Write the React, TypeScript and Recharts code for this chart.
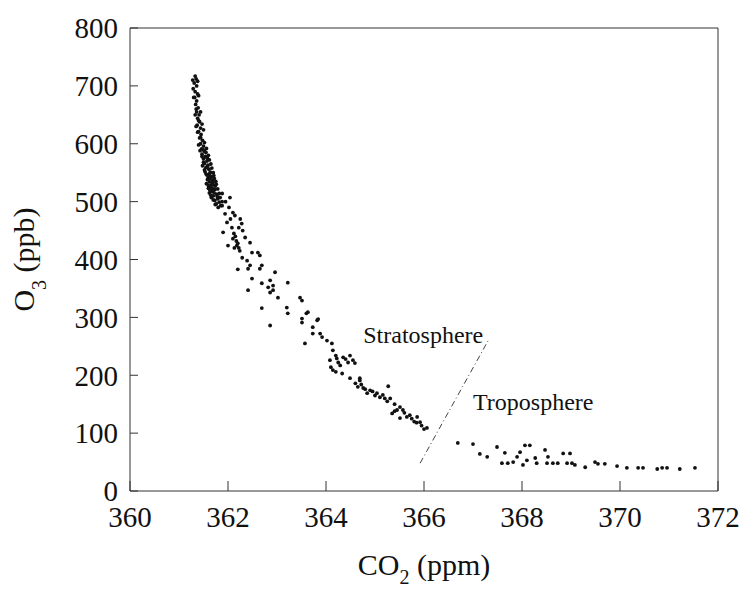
import React from "react";
import {
  ScatterChart,
  Scatter,
  XAxis,
  YAxis,
  ReferenceLine,
  ReferenceDot,
} from "recharts";

// CO2 (ppm), O3 (ppb) pairs
const upperBand: [number, number][] = [
  [361.33, 717], [361.35, 712], [361.31, 705], [361.36, 700], [361.29, 695],
  [361.33, 690], [361.38, 686], [361.32, 680], [361.36, 674], [361.34, 668],
  [361.39, 662], [361.36, 655], [361.41, 650], [361.38, 644], [361.42, 638],
  [361.37, 632], [361.44, 627], [361.4, 621], [361.45, 616], [361.42, 610],
  [361.48, 606], [361.44, 600], [361.5, 596], [361.46, 591], [361.52, 587],
  [361.47, 582], [361.54, 578], [361.5, 574], [361.57, 570], [361.52, 566],
  [361.59, 563], [361.55, 559], [361.61, 556], [361.53, 552], [361.63, 549],
  [361.57, 546], [361.66, 543], [361.59, 540], [361.68, 537], [361.62, 534],
  [361.56, 531], [361.7, 529], [361.64, 526], [361.6, 523], [361.73, 521],
  [361.67, 518], [361.62, 515], [361.76, 513], [361.7, 510], [361.66, 507],
  [361.79, 505], [361.73, 502], [361.82, 499], [361.76, 496], [361.85, 493],
  [361.8, 490], [361.58, 560], [361.64, 551], [361.61, 545], [361.69, 533],
  [361.74, 527], [361.66, 529], [361.71, 516], [361.68, 523], [361.78, 509],
  [361.58, 575], [361.49, 590], [361.44, 611], [361.4, 640], [361.35, 660],
  [361.55, 585], [361.63, 540], [361.71, 545], [361.75, 535],
  [361.4, 598], [361.52, 602], [361.43, 588], [361.56, 592], [361.47, 578],
  [361.6, 580], [361.5, 568], [361.62, 572], [361.48, 562], [361.65, 565],
  [361.52, 555], [361.67, 558], [361.55, 548], [361.7, 550], [361.58, 538],
  [361.72, 540], [361.6, 528], [361.76, 530], [361.63, 520], [361.79, 522],
  [361.65, 511], [361.82, 514], [361.7, 503], [361.84, 507], [361.74, 495],
  [361.88, 500], [361.35, 630], [361.47, 634], [361.38, 620], [361.5, 624],
  [361.33, 650], [361.44, 655], [361.3, 680], [361.4, 683], [361.28, 710],
  [361.38, 708],
];

const kneeBranch: [number, number][] = [
  [361.88, 514], [362.04, 507], [361.88, 493], [361.94, 479], [362.1, 481],
  [362.14, 476], [361.98, 464], [361.9, 447], [362.1, 436], [362.18, 424],
  [362.24, 415], [362.0, 424], [362.3, 450], [362.35, 438], [362.45, 429],
  [362.49, 412], [362.61, 412], [362.65, 407], [362.39, 398], [362.45, 390],
  [362.41, 384], [362.69, 390], [362.65, 384], [362.2, 383], [362.29, 403],
  [362.96, 378], [362.49, 367], [362.86, 364], [363.22, 360], [362.69, 359],
  [362.82, 352], [362.92, 355], [362.92, 347], [362.86, 343], [362.41, 347],
  [363.02, 334], [363.47, 334], [363.51, 329], [362.69, 316], [363.2, 317],
  [363.63, 309], [363.22, 307], [363.51, 298], [363.84, 297], [363.51, 291],
  [363.73, 283], [363.82, 295], [362.86, 286], [362.12, 445], [362.15, 440],
  [362.17, 432], [362.2, 428], [362.13, 420], [362.22, 420], [362.08, 455],
  [362.05, 470], [362.02, 490], [361.95, 500], [362.25, 470], [362.28, 462],
  [362.22, 455],
];

const lowerBranch: [number, number][] = [
  [363.6, 307], [363.57, 255], [363.73, 272], [363.88, 272], [363.92, 266],
  [364.02, 260], [364.12, 255], [364.14, 243], [364.08, 226], [364.22, 229],
  [364.35, 231], [364.49, 234], [364.55, 226], [364.59, 221], [364.29, 217],
  [364.14, 209], [364.33, 203], [364.49, 195], [364.69, 191], [365.27, 181],
  [364.76, 178], [364.9, 174], [365.04, 169], [365.16, 166], [365.31, 160],
  [365.35, 134], [365.51, 145], [365.57, 140], [365.71, 131], [365.86, 128],
  [365.92, 119], [366.06, 109], [365.51, 126], [364.84, 169], [364.2, 234],
  [364.4, 228], [364.45, 222], [364.25, 222], [364.6, 186], [364.65, 180],
  [364.72, 184], [364.8, 176], [364.95, 172], [365.0, 165], [365.1, 162],
  [365.2, 160], [365.25, 155], [365.4, 150], [365.45, 140], [365.6, 135],
  [365.65, 128], [365.75, 125], [365.8, 120], [365.95, 113], [366.0, 107],
  [365.85, 118], [365.4, 138], [364.1, 214], [364.2, 206], [364.69, 195],
];

const troposphere: [number, number][] = [
  [366.69, 83], [367.0, 81], [367.14, 64], [367.29, 59], [367.49, 76],
  [367.65, 66], [367.59, 48], [367.71, 48], [367.82, 50], [367.9, 59],
  [367.96, 67], [368.06, 79], [368.16, 79], [368.02, 45], [368.1, 53],
  [368.27, 57], [368.3, 48], [368.47, 71], [368.51, 48], [368.53, 59],
  [368.63, 48], [368.73, 48], [368.84, 65], [368.92, 48], [368.98, 65],
  [369.02, 48], [369.08, 45], [369.29, 41], [369.49, 50], [369.55, 47],
  [369.69, 47], [369.94, 43], [370.14, 40], [370.37, 40], [370.47, 40],
  [370.76, 38], [370.86, 40], [370.96, 40], [371.22, 38], [371.53, 40],
];

// tropopause divider drawn on the figure
const dividerLine: [number, number][] = [
  [365.92, 48],
  [367.31, 260],
];

const xTicks = [360, 362, 364, 366, 368, 370, 372];
const yTicks = [0, 100, 200, 300, 400, 500, 600, 700, 800];

const points = [...upperBand, ...kneeBranch, ...lowerBranch, ...troposphere].map(
  ([co2, o3]) => ({ co2, o3 })
);

const FONT = "'Liberation Serif', 'Times New Roman', serif";
const INK = "#111";

const Dot = (props: any) => (
  <circle cx={props.cx} cy={props.cy} r={1.9} fill={INK} />
);
const NoDot = () => <g />;

const XTitle = (props: any) => {
  const { x, y, width } = props.viewBox;
  return (
    <text
      x={x + width / 2}
      y={y + 84}
      textAnchor="middle"
      fontFamily={FONT}
      fontSize={30}
      fill={INK}
    >
      CO
      <tspan fontSize={20} dy={9}>2</tspan>
      <tspan dy={-9}> (ppm)</tspan>
    </text>
  );
};

const YTitle = (props: any) => {
  const { y, height } = props.viewBox;
  return (
    <text
      transform={`translate(34, ${y + height / 2}) rotate(-90)`}
      textAnchor="middle"
      fontFamily={FONT}
      fontSize={30}
      fill={INK}
    >
      O
      <tspan fontSize={20} dy={12}>3</tspan>
      <tspan dy={-12}> (ppb)</tspan>
    </text>
  );
};

const Note = (text: string) => (props: any) => (
  <text
    x={props.viewBox.x}
    y={props.viewBox.y}
    fontFamily={FONT}
    fontSize={24}
    fill={INK}
  >
    {text}
  </text>
);

const tickStyle = { fill: INK, fontSize: 29, fontFamily: FONT };

export default function App() {
  return (
    <div style={{ position: "absolute", left: 0, top: 0, background: "#fff" }}>
      <ScatterChart
        width={741}
        height={589}
        margin={{ top: 27, right: 22, bottom: 0, left: 0 }}
      >
        <XAxis
          xAxisId="b"
          dataKey="co2"
          type="number"
          domain={[360, 372]}
          ticks={xTicks}
          height={98}
          tickSize={-10}
          tickMargin={25}
          tick={tickStyle}
          stroke="#333"
          interval={0}
          label={{ content: XTitle }}
        />
        <XAxis
          xAxisId="t"
          dataKey="co2"
          orientation="top"
          type="number"
          domain={[360, 372]}
          ticks={xTicks}
          height={1}
          tickSize={-10}
          tick={false}
          stroke="#333"
          interval={0}
        />
        <YAxis
          yAxisId="l"
          dataKey="o3"
          type="number"
          domain={[0, 800]}
          ticks={yTicks}
          width={130}
          tickSize={-8}
          tickMargin={20}
          tick={tickStyle}
          stroke="#333"
          interval={0}
          label={{ content: YTitle }}
        />
        <YAxis
          yAxisId="r"
          dataKey="o3"
          orientation="right"
          type="number"
          domain={[0, 800]}
          ticks={yTicks}
          width={1}
          tickSize={-8}
          tick={false}
          stroke="#333"
          interval={0}
        />
        {/* invisible copy so the mirrored frame axes get drawn */}
        <Scatter
          xAxisId="t"
          yAxisId="r"
          data={points}
          shape={NoDot}
          isAnimationActive={false}
        />
        <Scatter
          xAxisId="b"
          yAxisId="l"
          data={points}
          shape={Dot}
          isAnimationActive={false}
        />
        <ReferenceLine
          xAxisId="b"
          yAxisId="l"
          segment={dividerLine.map(([x, y]) => ({ x, y }))}
          stroke="#444"
          strokeWidth={1}
          strokeDasharray="6 3 1 3"
        />
        <ReferenceDot
          xAxisId="b"
          yAxisId="l"
          x={364.76}
          y={255}
          r={0}
          stroke="none"
          label={{ content: Note("Stratosphere") }}
        />
        <ReferenceDot
          xAxisId="b"
          yAxisId="l"
          x={367.0}
          y={140}
          r={0}
          stroke="none"
          label={{ content: Note("Troposphere") }}
        />
      </ScatterChart>
    </div>
  );
}
